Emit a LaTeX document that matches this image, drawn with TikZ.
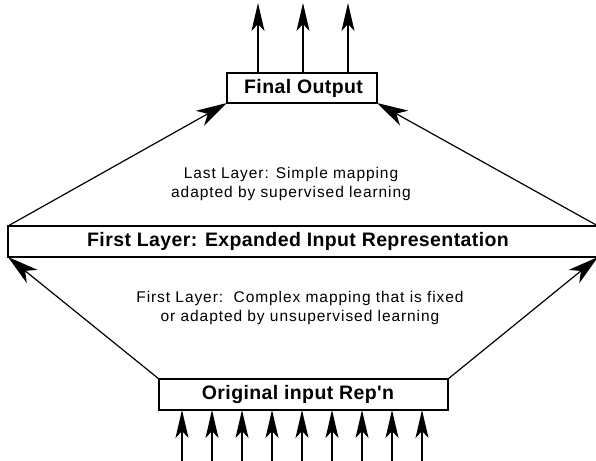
\documentclass[tikz,border=0pt]{standalone}
\usepackage{fontspec}
\setmainfont{Liberation Sans}
\newfontfamily\boldlbl[LetterSpace=2]{Liberation Sans Bold}
\newfontfamily\plainlbl[LetterSpace=6]{Liberation Sans}
\usetikzlibrary{arrows.meta,calc}
\begin{document}
\begin{tikzpicture}[x=1pt,y=-1pt,
  box/.style={draw=black,line width=1.2pt,fill=white,inner sep=0pt,outer sep=0pt,rectangle},
  boxtext/.style={font=\boldlbl\fontsize{19.5}{21}\selectfont,inner sep=0pt},
  note/.style={font=\plainlbl\fontsize{15.5}{19.5}\selectfont,align=center,inner sep=0pt},
  arr/.style={line width=1.2pt,-{Stealth[length=28pt,width=13pt,inset=7pt]}},
  darr/.style={line width=1.2pt,-{Stealth[length=31pt,width=17pt,inset=9pt]}}]
\useasboundingbox (0,0) rectangle (596,460);
% boxes
\node[box,minimum width=150pt,minimum height=30pt] (final) at (302,88) {};
\node[boxtext] (finallbl) at (303.5,88) {Final Output};
\node[box,minimum width=590pt,minimum height=31pt] (first) at (303,241.5) {};
\node[boxtext] (firstlbl) at (298,241.5) {First Layer: Expanded Input Representation};
\node[box,minimum width=289pt,minimum height=31pt] (orig) at (303.5,394.5) {};
\node[boxtext] (origlbl) at (298,394.5) {Original input Rep'n};
% notes
\node[note] (lastnote) at (291,184) {Last Layer: Simple mapping\\adapted by supervised learning};
\node[note] (firstnote) at (300,308) {First Layer:\ \ Complex mapping that is fixed\\or adapted by unsupervised learning};
% output arrows
\foreach \dx/\nm in {-44/oa,1/ob,46/oc}{
  \coordinate (\nm) at ($(final.north)+(\dx,-70)$);
  \draw[arr] ($(final.north)+(\dx,0)$) -- (\nm);
}
% input arrows
\foreach \k in {0,...,8}{
  \coordinate (in\k) at (182+30*\k,462);
  \draw[arr] (in\k) -- (in\k |- orig.south);
}
% diagonals
\draw[darr] (first.north west) -- (final.south west);
\draw[darr] (first.north east) -- (final.south east);
\draw[darr] (orig.north west) -- (first.south west);
\draw[darr] (orig.north east) -- (first.south east);
\end{tikzpicture}
\end{document}
